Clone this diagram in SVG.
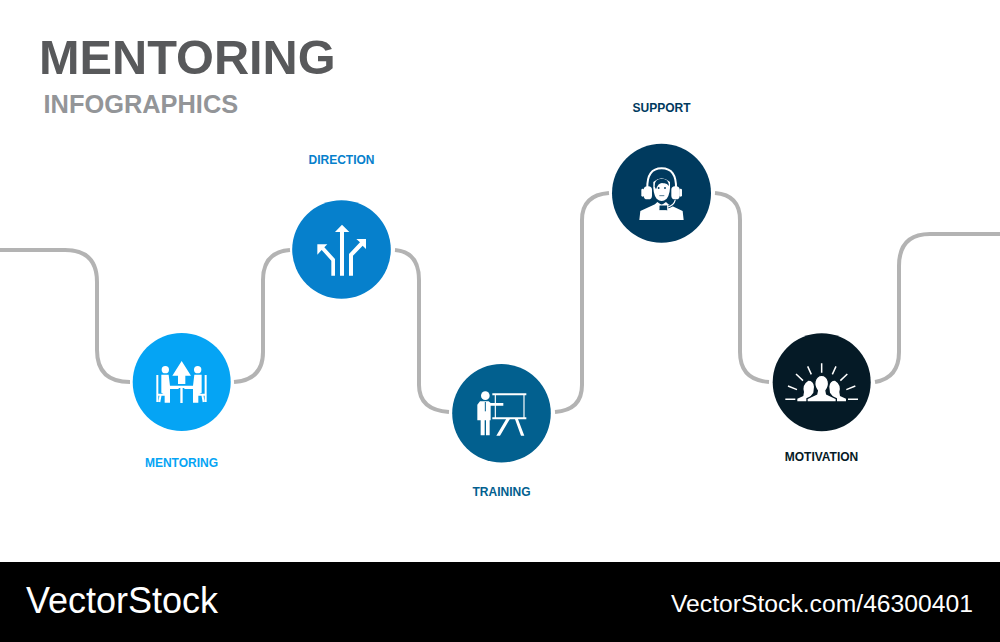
<svg xmlns="http://www.w3.org/2000/svg" width="1000" height="642" viewBox="0 0 1000 642">
<style>
text{font-family:"Liberation Sans",Arial,sans-serif;font-weight:700}
.lab{font-size:12px;text-anchor:middle}
.wire{fill:none;stroke:#b3b3b3;stroke-width:4}
.i{fill:#fff;stroke:none}
.l{fill:none;stroke:#fff;stroke-width:6}
.t{fill:none;stroke:#fff;stroke-width:3.500}
.l4{fill:none;stroke:#fff;stroke-width:4.500}
</style>
<rect width="1000" height="642" fill="#fff"/>
<text x="39" y="74" font-size="48.700" fill="#58595b">MENTORING</text>
<text x="43.500" y="113" font-size="25.400" fill="#939598">INFOGRAPHICS</text>
<g id="connectors">
<path class="wire" d="M0 250H65Q97 250 97 282V350Q97 382 130 382"/>
<path class="wire" d="M234 382Q263 380 263 352V280Q263 252 290 250"/>
<path class="wire" d="M395 250Q419 252 419 280V385Q419 410 449 412"/>
<path class="wire" d="M555 412Q582 410 582 385V220Q582 195 609 193"/>
<path class="wire" d="M715 193Q740 195 740 220V352Q740 380 769 382"/>
<path class="wire" d="M875 382Q899 378 899 352V266Q899 234 930 234H1000"/>
</g>
<g id="node-mentoring">
<circle cx="181.700" cy="382" r="49" fill="#05a4f4"/>
<text class="lab" x="181.500" y="467" fill="#05a4f4">MENTORING</text>
<g transform="translate(120 320) scale(.3333)">
<circle class="i" cx="136" cy="149" r="11"/><circle class="i" cx="233" cy="149" r="11"/>
<path class="i" d="M185 123L213 167H196V192H174V167H157Z"/>
<path class="i" d="M124 164H146L150 198H176V207H150V248H134V224L124 218Z"/>
<path class="i" d="M245 164H223L219 198H193V207H219V248H235V224L245 218Z"/>
<path class="i" d="M147 197H222V204H188V249H181V204H147Z"/>
<path class="l" d="M112 165V246M112 224H140M122 224L118 246M257 165V246M257 224H229M247 224L251 246"/>
</g>
</g>
<g id="node-direction">
<circle cx="341.500" cy="249.500" r="49.300" fill="#0680cc"/>
<text class="lab" x="341.500" y="164" fill="#0680cc">DIRECTION</text>
<g transform="translate(280 190) scale(.3333)">
<path class="i" d="M186 104L208 126H192V257H180V126H165Z"/>
<path class="i" d="M112 163H142L133 172L165 207V257H154V212L125 180L112 194Z"/>
<path class="i" d="M258 147V177L248 167L219 197V257H207V192L240 157L229 147Z"/>
</g>
</g>
<g id="node-training">
<circle cx="501.500" cy="413.300" r="49.300" fill="#02608f"/>
<text class="lab" x="501.500" y="496" fill="#02608f">TRAINING</text>
<g transform="translate(440 352) scale(.3333)">
<circle class="i" cx="136" cy="131" r="13"/>
<path class="i" d="M120 148H146L152 153H190V161H152V205H149V250H138V205H134V250H122V205H112V158Z"/>
<path d="M136 150V178" stroke="#02608f" stroke-width="3" fill="none"/>
<path class="t" d="M166 127V198M252 127V198"/>
<path class="l" d="M157 127H259M157 199H259"/>
<path class="i" d="M200 199H211L180 251H169ZM224 199H233L253 251H243Z"/>
</g>
</g>
<g id="node-support">
<circle cx="661.500" cy="193.300" r="49.500" fill="#003a5e"/>
<text class="lab" x="661.500" y="112" fill="#003a5e">SUPPORT</text>
<g transform="translate(600 132) scale(.3333)">
<path class="i" d="M118 264L121 237L165 217L172 210L185 219L198 210L205 217L248 237L251 264Z"/>
<path class="l" d="M142 170Q140 109 185 109Q230 109 228 170"/>
<rect class="i" x="131" y="163" width="25" height="39" rx="11"/>
<rect class="i" x="214" y="163" width="25" height="39" rx="11"/>
<rect class="i" x="124" y="170" width="8" height="24" rx="4"/>
<rect class="i" x="238" y="170" width="8" height="24" rx="4"/>
<path class="i" d="M160 150Q185 128 210 150Q212 186 200 200Q185 214 170 200Q158 186 160 150Z"/>
<path fill="#003a5e" d="M164 164Q162 140 186 140Q206 140 207 162Q200 152 190 154Q176 150 168 172Z"/>
<circle cx="176" cy="168" r="2.800" fill="#003a5e"/><circle cx="195" cy="168" r="2.800" fill="#003a5e"/>
<path d="M178 191H193" stroke="#003a5e" stroke-width="2" fill="none"/>
<path d="M226 203Q222 222 200 226" fill="none" stroke="#003a5e" stroke-width="8"/>
<path d="M226 203Q222 222 200 226" fill="none" stroke="#fff" stroke-width="3.500"/>
<rect x="177" y="219" width="26" height="17" rx="3" fill="#003a5e" stroke="#fff" stroke-width="3"/>
</g>
</g>
<g id="node-motivation">
<circle cx="821.700" cy="382.300" r="49" fill="#051a26"/>
<text class="lab" x="821.500" y="461" fill="#051a26">MOTIVATION</text>
<g transform="translate(760 320) scale(.3333)">
<path class="l4" d="M185 130V158M143 139L154 163M108 162L129 182M84 198L111 209M76 238H106M228 139L217 163M262 162L241 182M286 198L259 209M264 238H294"/>
<path class="i" d="M112 244V236L130 228L132 216Q126 194 145 182Q160 182 162 200L160 218L140 244Z"/>
<path class="i" d="M258 244V236L240 228L238 216Q244 194 225 182Q210 182 208 200L210 218L230 244Z"/>
<path stroke="#051a26" stroke-width="4" fill="#fff" d="M141 246V236L170 222L172 212Q162 198 165 184Q170 166 185 166Q200 166 205 184Q208 198 198 212L200 222L229 236V246Z"/>
</g>
</g>
<g id="footer">
<rect y="562" width="1000" height="80" fill="#000"/>
<text x="26" y="613" font-size="36" fill="#fff" style="font-weight:400">VectorStock</text>
<text x="671" y="612" font-size="24.700" fill="#fff" style="font-weight:400" textLength="302" lengthAdjust="spacingAndGlyphs">VectorStock.com/46300401</text>
</g>
</svg>
